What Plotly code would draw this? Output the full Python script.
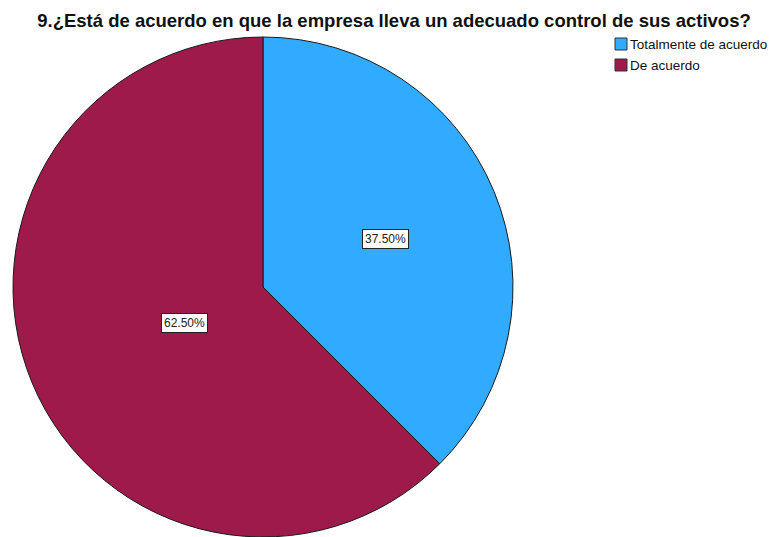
import math
import plotly.graph_objects as go

title = "9.¿Está de acuerdo en que la empresa lleva un adecuado control de sus activos?"
categories = ["Totalmente de acuerdo", "De acuerdo"]
values = [37.5, 62.5]
colors = ["#31ABFF", "#9E1A4B"]
label_radius = [0.53, 0.34]

W, H = 774, 537
dom_x = [10 / W, 516 / W]
dom_y = [0.0, (H - 37) / H]
FONT = "Liberation Sans, Arial"

fig = go.Figure(go.Pie(
    labels=categories,
    values=values,
    sort=False,
    direction="clockwise",
    rotation=0,
    textinfo="none",
    hoverinfo="none",
    marker=dict(colors=colors, line=dict(color="#1a1a1a", width=1)),
    domain=dict(x=dom_x, y=dom_y),
    showlegend=False,
))

# centre and radius of the pie in pixels
cx_px = (dom_x[0] + dom_x[1]) / 2 * W
cy_px = H - (dom_y[0] + dom_y[1]) / 2 * H
r_px = min((dom_x[1] - dom_x[0]) * W, (dom_y[1] - dom_y[0]) * H) / 2

total = sum(values)
start = 0.0
for v, rf in zip(values, label_radius):
    mid = (start + v / 2) / total * 2 * math.pi
    start += v
    px = cx_px + math.sin(mid) * r_px * rf
    py = cy_px - math.cos(mid) * r_px * rf + 3
    fig.add_annotation(
        x=px / W, y=1 - py / H, xref="paper", yref="paper",
        xanchor="center", yanchor="middle",
        text=f"{v / total * 100:.2f}%", showarrow=False,
        font=dict(family=FONT, size=12, color="#222"),
        bgcolor="white", bordercolor="#222", borderwidth=1, borderpad=2,
    )

# legend drawn as squares + text
leg_x0 = 615
leg_y0 = 38
leg_step = 21
sq = 12
for i, (name, col) in enumerate(zip(categories, colors)):
    y_top = leg_y0 + i * leg_step
    fig.add_shape(type="rect", xref="paper", yref="paper",
                  x0=leg_x0 / W, x1=(leg_x0 + sq) / W,
                  y0=1 - (y_top + sq) / H, y1=1 - y_top / H,
                  fillcolor=col, line=dict(color="#333", width=1))
    fig.add_annotation(x=(leg_x0 + sq + 1) / W, y=1 - (y_top + sq / 2) / H,
                       xref="paper", yref="paper", xanchor="left", yanchor="middle",
                       text=name, showarrow=False,
                       font=dict(family=FONT, size=13.5, color="#111"))

fig.update_layout(
    width=W, height=H,
    margin=dict(l=0, r=0, t=0, b=0),
    paper_bgcolor="white",
    title=dict(text=f"<b>{title}</b>", x=394 / W, xanchor="center",
               y=1 - 21 / H, yanchor="middle",
               font=dict(family=FONT, size=18.5, color="#111")),
    showlegend=False,
)

fig.write_html("out.html")
